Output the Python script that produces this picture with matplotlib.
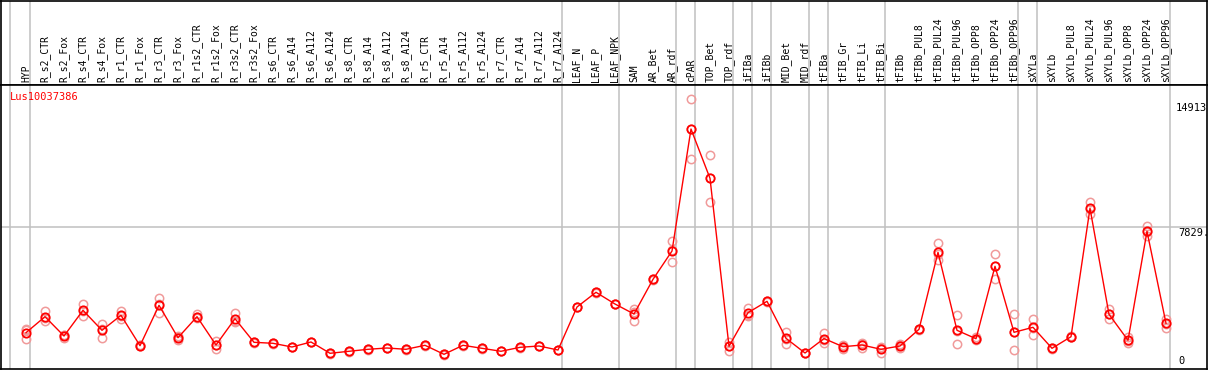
import matplotlib
matplotlib.use("Agg")
import matplotlib.pyplot as plt
import numpy as np

gene = 'Lus10037386'

samples = ['HYP', 'R_s2_CTR', 'R_s2_Fox', 'R_s4_CTR', 'R_s4_Fox', 'R_r1_CTR', 'R_r1_Fox',
           'R_r3_CTR', 'R_r3_Fox', 'R_r1s2_CTR', 'R_r1s2_Fox', 'R_r3s2_CTR', 'R_r3s2_Fox',
           'R_s6_CTR', 'R_s6_A14', 'R_s6_A112', 'R_s6_A124', 'R_s8_CTR', 'R_s8_A14',
           'R_s8_A112', 'R_s8_A124', 'R_r5_CTR', 'R_r5_A14', 'R_r5_A112', 'R_r5_A124',
           'R_r7_CTR', 'R_r7_A14', 'R_r7_A112', 'R_r7_A124', 'LEAF_N', 'LEAF_P', 'LEAF_NPK',
           'SAM', 'AR_Bet', 'AR_rdf', 'cPAR', 'TOP_Bet', 'TOP_rdf', 'iFIBa', 'iFIBb',
           'MID_Bet', 'MID_rdf', 'tFIBa', 'tFIB_Gr', 'tFIB_Li', 'tFIB_Bi', 'tFIBb',
           'tFIBb_PUL8', 'tFIBb_PUL24', 'tFIBb_PUL96', 'tFIBb_OPP8', 'tFIBb_OPP24',
           'tFIBb_OPP96', 'sXYLa', 'sXYLb', 'sXYLb_PUL8', 'sXYLb_PUL24', 'sXYLb_PUL96',
           'sXYLb_OPP8', 'sXYLb_OPP24', 'sXYLb_OPP96']

mean_expr = [2001, 2884, 1819, 3236, 2133, 2960, 1285, 3512, 1726, 2884, 1323, 2773, 1472,
             1417, 1213, 1489, 866, 977, 1086, 1158, 1086, 1307, 810, 1307, 1141,
             977, 1196, 1268, 1047, 3418, 4229, 3583,
             3032, 4945, 6505, 13231, 10513, 1251, 3104, 3732,
             1692, 882, 1680, 1229, 1323, 1086, 1268,
             2189, 6434, 2133, 1670, 5662, 2023,
             2299, 1141, 1781, 8859, 3016, 1582, 7591, 2519]

replicates = [[2123, 1654, 2227], [3214, 2646, 2790], [1874, 1690, 1893], [3567, 2922, 3219],
              [2481, 1726, 2192], [3214, 2740, 2926], [1300, 1250, 1305], [3898, 3071, 3567],
              [1781, 1599, 1798], [3016, 2790, 2846], [1544, 1103, 1322], [3071, 2608, 2640],
              [1500, 1430, 1486], [1430, 1400, 1421], [1230, 1195, 1214], [1500, 1470, 1497],
              [880, 850, 868], [990, 960, 981], [1100, 1070, 1088], [1170, 1140, 1164],
              [1095, 1075, 1088], [1320, 1290, 1311], [825, 795, 810], [1320, 1295, 1306],
              [1155, 1125, 1143], [990, 965, 976], [1210, 1180, 1198], [1280, 1255, 1269],
              [1060, 1030, 1051], [3430, 3400, 3424], [4240, 4215, 4232], [3595, 3570, 3584],
              [3308, 2663, 3125], [4960, 4930, 4945], [7057, 5916, 6542], [14913, 11561, 13219],
              [11798, 9190, 10551], [1472, 1009, 1272], [3379, 2938, 2995], [3745, 3720, 3731],
              [2023, 1395, 1658], [895, 870, 881], [1968, 1450, 1622], [1340, 1086, 1261],
              [1417, 1174, 1378], [1229, 882, 1147], [1362, 1141, 1301],
              [2230, 2150, 2187], [6946, 6009, 6347], [2960, 1362, 2077], [1750, 1600, 1660],
              [6340, 4978, 5668], [3016, 1031, 2022], [2740, 1891, 2266], [1160, 1120, 1143],
              [1800, 1760, 1783], [9207, 8545, 8825], [3291, 2740, 3017], [1781, 1417, 1548],
              [7900, 7332, 7541], [2773, 2277, 2507]]

# last sample index of each tissue group (separator drawn just after)
group_ends = [0, 28, 31, 34, 35, 37, 38, 39, 41, 42, 45, 52, 53, 60]

max_expr = 14913
mid_expr = 7829

W, H = 1209, 370
fig = plt.figure(figsize=(W / 100, H / 100), dpi=100)

xlo = (0.5 - 26) / 19
xhi = (1207 - 26) / 19
ax_head = fig.add_axes([0.5 / W, (H - 85) / H, 1206.5 / W, 84.5 / H])
ax = fig.add_axes([0.5 / W, 1 / H, 1206.5 / W, 284 / H], sharex=ax_head)

xs = np.arange(len(samples))
gray = '#c0c0c0'

for a in (ax_head, ax):
    a.set_xlim(xlo, xhi)
    a.set_xticks([])
    a.set_yticks([])
    for s in a.spines.values():
        s.set_color('black')
        s.set_linewidth(1.2)
    a.axvline(-0.84, color=gray, lw=1.1, zorder=0)
    for g in group_ends:
        a.axvline(g + 0.2, color=gray, lw=1.1, zorder=0)

ax_head.set_ylim(0, 1)
for i, name in enumerate(samples):
    ax_head.text(i, 0.03, name, rotation=90, ha='center', va='bottom',
                 fontsize=7, family='DejaVu Sans Mono')

ax.set_ylim(0, 2 * mid_expr)
ax.axhline(mid_expr, color=gray, lw=1.1, zorder=0)

reps = np.array(replicates)
for k in range(reps.shape[1]):
    ax.plot(xs, reps[:, k], ls='none', marker='o', ms=6, mfc='none', mec='#f09a9a',
            mew=1.1, zorder=2)
ax.plot(xs, mean_expr, color='#ff0000', lw=1.0, marker='o', ms=6, mfc='none',
        mec='#ff0000', mew=1.3, zorder=3)

ax.text(9 / 1206, (369 - 97) / 284, gene, transform=ax.transAxes, color='#ff0000',
        fontsize=7.5, family='DejaVu Sans Mono', ha='left', va='center')

lab_x = (1176 - 26) / 19
ax.annotate(str(max_expr), (lab_x, max_expr), xytext=(0, -4), textcoords='offset pixels',
            ha='left', va='top', fontsize=7.5, family='DejaVu Sans Mono')
ax.annotate(f'{mid_expr}.', (lab_x, mid_expr), xytext=(2, -1), textcoords='offset pixels',
            ha='left', va='top', fontsize=7.5, family='DejaVu Sans Mono')
ax.annotate('0', (lab_x, 0), xytext=(2, 3), textcoords='offset pixels',
            ha='left', va='bottom', fontsize=7.5, family='DejaVu Sans Mono')

fig.savefig('out.png', dpi=100)
